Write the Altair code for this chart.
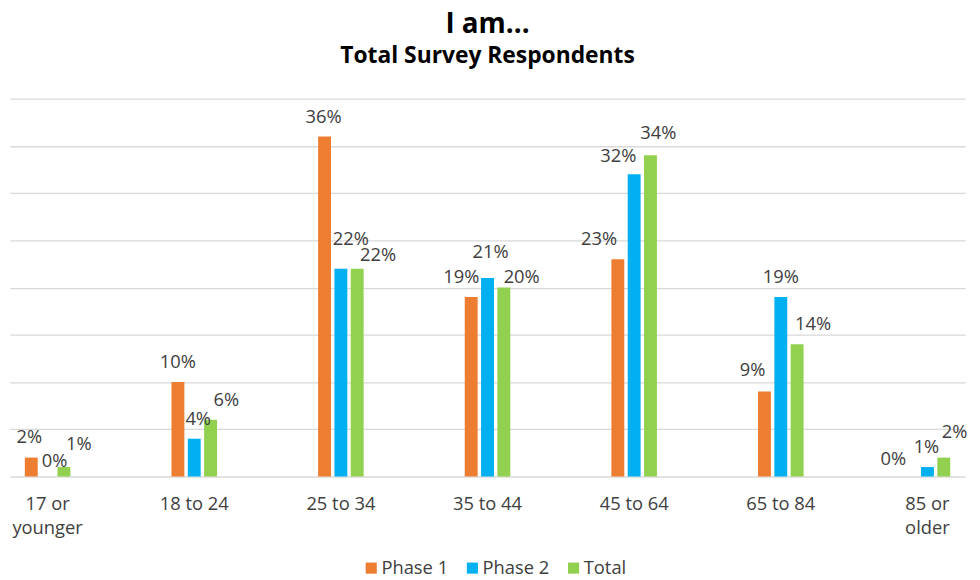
import altair as alt
import pandas as pd

# ---- data ----
categories = ["17 or younger", "18 to 24", "25 to 34", "35 to 44",
              "45 to 64", "65 to 84", "85 or older"]
series = ["Phase 1", "Phase 2", "Total"]
phase1 = [2, 10, 36, 19, 23, 9, 0]
phase2 = [0, 4, 22, 21, 32, 19, 1]
total = [1, 6, 22, 20, 34, 14, 2]
values = {"Phase 1": phase1, "Phase 2": phase2, "Total": total}

# ---- label nudges (pixel offsets, style only, mimicking overlap avoidance) ----
label_dx = {
    "Phase 1": [-2, 0, -1, -10, -19, -12, -18],
    "Phase 2": [7, 4, 10, 3, -16, 0, -1],
    "Total": [15, 16, 21, 18, 8, 16, 11],
}
label_dy = {
    "Phase 1": [-1, 0, 0, 0, 0, -2, 2],
    "Phase 2": [4, 0, -10, -6, 2, 0, 0],
    "Total": [-3, 0, 6, 9, -2, 0, -6],
}

colors = ["#ED7D31", "#00B0F0", "#92D050"]
FONT = "Open Sans"
TXT = "#404040"

rows = []
for s in series:
    for i, c in enumerate(categories):
        v = values[s][i]
        rows.append({
            "cat": c, "series": s, "value": v, "label": f"{v}%",
            "ldx": label_dx[s][i], "ldy": -20 + label_dy[s][i],
        })
df = pd.DataFrame(rows)

x_enc = alt.X("cat:N", sort=categories, title=None,
              scale=alt.Scale(paddingInner=0.666, paddingOuter=0.0895),
              axis=alt.Axis(ticks=False, domain=False, tickSize=0, labelAngle=0,
                            labelFont=FONT, labelFontSize=18.5, labelColor=TXT,
                            labelPadding=18, labelLineHeight=25,
                            labelExpr="test(/ or /, datum.label) ? "
                                      "[split(datum.label, ' or ')[0] + ' or', "
                                      "split(datum.label, ' or ')[1]] : datum.label"))
xo_enc = alt.XOffset("series:N", sort=series,
                     scale=alt.Scale(paddingInner=0.21, paddingOuter=0.105))
y_enc = alt.Y("value:Q", title=None,
              scale=alt.Scale(domain=[0, 40], nice=False),
              axis=alt.Axis(values=[0, 5, 10, 15, 20, 25, 30, 35, 40], labels=False,
                            ticks=False, domain=False, grid=True,
                            gridColor="#D9D9D9", gridWidth=1.3))

bars = alt.Chart(df).mark_bar().encode(
    x=x_enc, xOffset=xo_enc, y=y_enc,
    color=alt.Color("series:N", sort=series,
                    scale=alt.Scale(domain=series, range=colors),
                    legend=alt.Legend(title=None, orient="none", direction="horizontal",
                                      legendX=355, legendY=464,
                                      symbolType="square", symbolSize=125,
                                      symbolStrokeWidth=0, labelFont=FONT,
                                      labelFontSize=18.5, labelColor=TXT,
                                      labelOffset=1, columnPadding=15)),
)

labels = alt.Chart(df).mark_text(
    font=FONT, fontSize=18.5, color=TXT, baseline="middle", align="center",
    dx=alt.ExprRef("datum.ldx"), dy=alt.ExprRef("datum.ldy"),
).encode(
    x=alt.X("cat:N", sort=categories), xOffset=alt.XOffset("series:N", sort=series),
    y=alt.Y("value:Q"), text="label:N",
)

chart = alt.layer(bars, labels).properties(
    width=963, height=381,
    title=alt.Title("I am...", subtitle="Total Survey Respondents",
                    font=FONT, subtitleFont=FONT, fontSize=28, subtitleFontSize=23,
                    fontWeight="bold", subtitleFontWeight="bold",
                    color="#000000", subtitleColor="#000000",
                    anchor="middle", offset=31, subtitlePadding=6),
    autosize=alt.AutoSizeParams(type="none"),
    padding={"left": 2, "top": 89, "right": 7, "bottom": 104},
).configure(background="white", view=alt.ViewConfig(stroke=None))

chart.save("out.html", embed_options={"renderer": "svg", "actions": False})
